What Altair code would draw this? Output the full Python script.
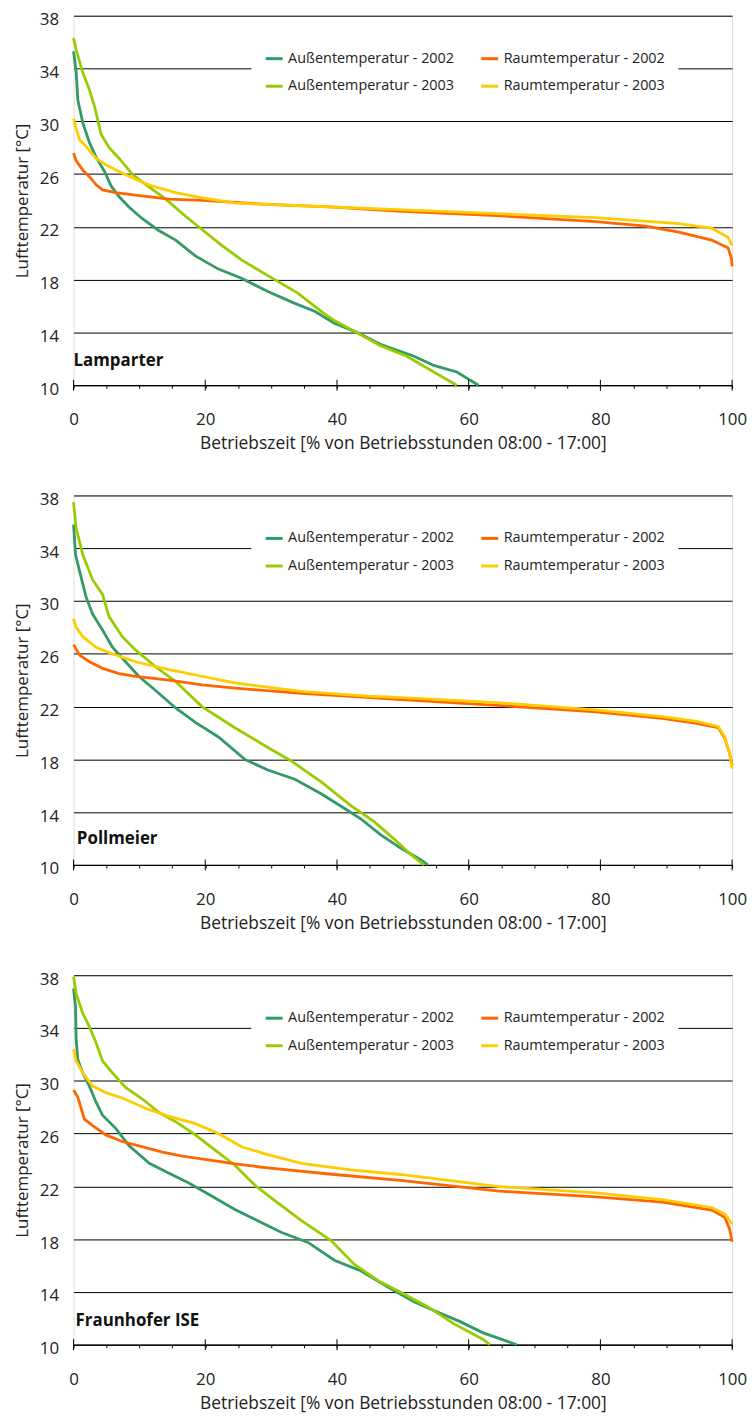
import altair as alt
import pandas as pd

FONT = "Open Sans"

SERIES = ["Außentemperatur - 2002", "Außentemperatur - 2003",
          "Raumtemperatur - 2002", "Raumtemperatur - 2003"]
COLORS = ["#339966", "#99CC00", "#FF6600", "#FFCC00"]

PANELS = ["Lamparter", "Pollmeier", "Fraunhofer ISE"]
X_TITLES = ["Betriebszeit [% von Betriebsstunden 08:00 - 17:00]",
            "Betriebszeit [% von Betriebsstunden 08:00 - 17:00]",
            "Betriebszeit [% von Betriebsstunden 08:00 -  17:00]"]
Y_TITLE = "Lufttemperatur [°C]"
Y_TICKS = [10, 14, 18, 22, 26, 30, 34, 38]
X_MINOR = list(range(0, 101, 5))
X_MAJOR = [0, 20, 40, 60, 80, 100]
X_BASE = 10
LABEL_X = [0, 0.5, 0.3]
LABEL_Y = [11.85, 11.95, 11.8]

# ---------- Lamparter ----------
lam_a02_x = [0, 0.4, 0.65, 1.4, 2.4, 3.4, 4.7, 5.7, 6.9, 8.4, 10.5, 13, 15.5, 18.5, 22, 25.5,
             29.5, 33.6, 36.6, 39.6, 42.6, 46.6, 51.7, 54.7, 58.2, 61.5]
lam_a02_y = [35.3, 33.7, 31.6, 29.9, 28.4, 27.3, 26.2, 25.1, 24.3, 23.5, 22.6, 21.7, 21.0, 19.8,
             18.8, 18.1, 17.1, 16.2, 15.6, 14.7, 14.1, 13.1, 12.2, 11.5, 11.0, 10.0]
lam_a03_x = [0, 0.4, 1.4, 2.4, 3.2, 4.2, 5.4, 6.9, 8.9, 11, 14, 17, 19.5, 22.5, 25.5, 29.5, 34,
             37.6, 39.6, 42.6, 46.6, 50.6, 54.7, 58.2]
lam_a03_y = [36.3, 35.4, 33.7, 32.4, 31.1, 29.0, 28.0, 27.2, 26.0, 25.2, 24.1, 22.8, 21.8, 20.6,
             19.5, 18.3, 17.0, 15.6, 14.9, 14.1, 13.0, 12.2, 11.0, 10.0]
lam_r02_x = [0, 0.4, 1.4, 2.4, 3.4, 4.4, 6.4, 9.4, 14.5, 19.5, 29.5, 39.6, 49.2, 64.3, 79.3,
             86.9, 91.9, 96.9, 99.4, 99.9, 100]
lam_r02_y = [27.6, 27.0, 26.3, 25.8, 25.2, 24.8, 24.6, 24.4, 24.1, 24.0, 23.7, 23.5, 23.2, 22.85,
             22.4, 22.05, 21.6, 21.0, 20.4, 19.6, 19.0]
lam_r03_x = [0, 0.3, 0.9, 1.9, 3.4, 4.9, 6.9, 9.4, 11.9, 15.5, 19.5, 24.5, 34.6, 44.6, 49.2,
             64.3, 79.3, 91.9, 96.9, 99.4, 100]
lam_r03_y = [30.2, 29.6, 28.6, 28.1, 27.2, 26.7, 26.2, 25.6, 25.1, 24.6, 24.2, 23.8, 23.6, 23.4,
             23.3, 23.0, 22.7, 22.25, 21.9, 21.2, 20.6]

# ---------- Pollmeier ----------
pol_a02_x = [0, 0.3, 0.9, 1.9, 2.9, 4.4, 5.9, 7.9, 9.9, 12.5, 15.5, 18.5, 22, 26, 29.5, 33.6,
             37.6, 41.1, 43.6, 46.6, 49.6, 52.7, 53.8]
pol_a02_y = [35.8, 33.5, 32.3, 30.3, 29.0, 27.8, 26.5, 25.4, 24.3, 23.2, 21.9, 20.8, 19.7, 18.0,
             17.2, 16.5, 15.4, 14.3, 13.5, 12.3, 11.3, 10.4, 10.0]
pol_a03_x = [0, 0.4, 1.4, 2.9, 4.4, 5.4, 7.4, 9.4, 12.5, 15.5, 19.5, 24.5, 29.5, 33, 37.6, 42.1,
             45.6, 48.6, 51.2, 53.2]
pol_a03_y = [37.5, 35.5, 33.5, 31.6, 30.5, 28.8, 27.3, 26.3, 25.0, 23.9, 22.0, 20.4, 18.9, 17.9,
             16.3, 14.5, 13.3, 12.0, 10.8, 10.0]
pol_r02_x = [0, 0.9, 2.4, 4.4, 6.9, 9.4, 14.5, 19.5, 24.5, 34.6, 44.6, 49.2, 64.3, 79.3, 89.4,
             94.4, 97.9, 98.9, 99.6, 100]
pol_r02_y = [26.7, 25.9, 25.4, 24.9, 24.5, 24.3, 24.0, 23.65, 23.4, 23.0, 22.7, 22.55, 22.1,
             21.6, 21.1, 20.75, 20.4, 19.6, 18.5, 17.5]
pol_r03_x = [0, 0.4, 1.4, 3.4, 5.9, 9.4, 14.5, 19.5, 24.5, 34.6, 44.6, 49.2, 64.3, 79.3, 89.4,
             94.4, 97.9, 98.9, 99.6, 100]
pol_r03_y = [28.65, 28.0, 27.3, 26.5, 26.0, 25.4, 24.8, 24.3, 23.8, 23.15, 22.8, 22.7, 22.3,
             21.75, 21.25, 20.9, 20.5, 19.7, 18.5, 17.3]

# ---------- Fraunhofer ISE ----------
ise_a02_x = [0, 0.3, 0.4, 0.65, 1.4, 2.4, 3.4, 4.4, 6.4, 8.4, 11.5, 14.5, 17.5, 20.5, 24.5, 27.5,
             31.6, 35.6, 39.6, 43.6, 47.6, 51.7, 54.7, 58.7, 62.2, 67.3]
ise_a02_y = [37.0, 35.6, 33.1, 31.6, 30.6, 29.6, 28.4, 27.4, 26.4, 25.1, 23.75, 23.0, 22.25,
             21.4, 20.25, 19.5, 18.5, 17.75, 16.4, 15.6, 14.4, 13.25, 12.6, 11.75, 10.9, 10.0]
ise_a03_x = [0, 0.4, 1.4, 2.4, 3.4, 4.4, 5.9, 7.9, 10.5, 13, 15.5, 18.5, 21.5, 24.5, 27.5, 30.6,
             34.6, 39.1, 42.6, 46.6, 49.6, 53.7, 57.7, 62.2, 63.2]
ise_a03_y = [37.9, 36.6, 35.1, 34.1, 32.9, 31.5, 30.6, 29.5, 28.6, 27.6, 26.9, 25.9, 24.75, 23.6,
             22.1, 20.9, 19.4, 17.9, 16.1, 14.75, 14.0, 12.9, 11.6, 10.4, 10.0]
ise_r02_x = [0, 0.65, 1.65, 2.9, 4.9, 7.4, 10.5, 13.5, 16.5, 20.5, 24.5, 29.5, 39.6, 49.6, 64.3,
             79.3, 89.4, 96.9, 98.9, 99.6, 100]
ise_r02_y = [29.3, 28.75, 27.1, 26.6, 25.9, 25.4, 25.0, 24.6, 24.3, 24.0, 23.7, 23.4, 22.9,
             22.45, 21.65, 21.2, 20.8, 20.2, 19.65, 18.8, 17.8]
ise_r03_x = [0, 0.4, 1.4, 2.9, 4.9, 7.4, 11, 14.5, 18.5, 22, 25.5, 29.5, 34.6, 42.1, 49.6, 64.3,
             79.3, 89.4, 96.9, 98.9, 100]
ise_r03_y = [32.4, 31.5, 30.6, 29.6, 29.1, 28.7, 27.9, 27.3, 26.75, 26.0, 25.0, 24.4, 23.75,
             23.25, 22.9, 22.0, 21.5, 21.0, 20.4, 19.9, 19.15]

PANEL_DATA = [
    [(lam_a02_x, lam_a02_y), (lam_a03_x, lam_a03_y), (lam_r02_x, lam_r02_y), (lam_r03_x, lam_r03_y)],
    [(pol_a02_x, pol_a02_y), (pol_a03_x, pol_a03_y), (pol_r02_x, pol_r02_y), (pol_r03_x, pol_r03_y)],
    [(ise_a02_x, ise_a02_y), (ise_a03_x, ise_a03_y), (ise_r02_x, ise_r02_y), (ise_r03_x, ise_r03_y)],
]

W, H = 663, 372


def make_panel(i):
    rows = []
    for k, s in enumerate(SERIES):
        xs, ys = PANEL_DATA[i][k]
        for j, (xv, yv) in enumerate(zip(xs, ys)):
            rows.append({"pct": xv, "temp": yv, "series": s, "k": k, "j": j})
    df = pd.DataFrame(rows)
    lab = pd.DataFrame({"pct": [LABEL_X[i]], "temp": [LABEL_Y[i]], "name": [PANELS[i]]})
    ticks = pd.DataFrame({"pct": X_MAJOR, "temp": [X_BASE] * len(X_MAJOR)})

    xscale = alt.Scale(domain=[0, 100], nice=False, zero=False)
    yscale = alt.Scale(domain=[10, 38], nice=False, zero=False)
    yaxis = alt.Axis(values=Y_TICKS, grid=True, gridColor="#000000", gridWidth=1, gridOpacity=1,
                     domain=False, ticks=False, labelPadding=15, labelFontSize=17,
                     labelOffset=4, labelColor="#222222", labelFont=FONT,
                     title=Y_TITLE, titleFontSize=17, titleFontWeight="normal",
                     titleColor="#222222", titlePadding=8, titleFont=FONT)
    xaxis = alt.Axis(orient="bottom", values=X_MINOR, tickSize=3, tickColor="#000000",
                     tickWidth=1, domainColor="#000000", domainWidth=1.3, grid=False,
                     labelExpr="datum.value % 20 == 0 ? datum.label : ''",
                     labelOverlap=False, labelFlush=False, labelPadding=24,
                     labelBaseline="top", labelFontSize=17, labelColor="#222222",
                     labelFont=FONT, title=X_TITLES[i], titleFontSize=17.5,
                     titleFontWeight="normal", titleColor="#222222", titlePadding=7,
                     titleFont=FONT)
    x_enc = alt.X("pct:Q", scale=xscale, axis=xaxis)
    y_enc = alt.Y("temp:Q", scale=yscale, axis=yaxis)

    lines = alt.Chart(df).mark_line(strokeWidth=2.8, interpolate="linear").encode(
        x=x_enc,
        y=y_enc,
        color=alt.Color("series:N", scale=alt.Scale(domain=SERIES, range=COLORS),
                        legend=alt.Legend(orient="none", legendX=179, legendY=20, columns=2,
                                          fillColor="white", padding=13, columnPadding=20,
                                          rowPadding=11, symbolType="stroke", symbolSize=289,
                                          symbolStrokeWidth=3, labelFontSize=14.5,
                                          labelFont=FONT, labelColor="#222222",
                                          labelOffset=4, labelLimit=0, title=None)),
        detail="k:N",
        order="j:Q",
    )

    major = alt.Chart(ticks).mark_tick(orient="vertical", size=11, thickness=1,
                                       color="#000000", opacity=1).encode(
        x=x_enc,
        y=y_enc,
    )

    text = alt.Chart(lab).mark_text(align="left", baseline="middle", fontWeight="bold",
                                    fontSize=17, font=FONT, color="#111111").encode(
        x=x_enc,
        y=y_enc,
        text="name:N",
    )

    return alt.layer(lines, major, text).properties(width=W, height=H)


chart = alt.vconcat(make_panel(0), make_panel(1), make_panel(2), spacing=37).resolve_scale(
    color="independent").resolve_legend(color="independent").properties(
    padding={"left": 5, "top": -3, "right": 0, "bottom": 0}).configure_view(
    stroke=None).configure(font=FONT)

chart.save("out.html", embed_options={"renderer": "svg", "actions": False})
